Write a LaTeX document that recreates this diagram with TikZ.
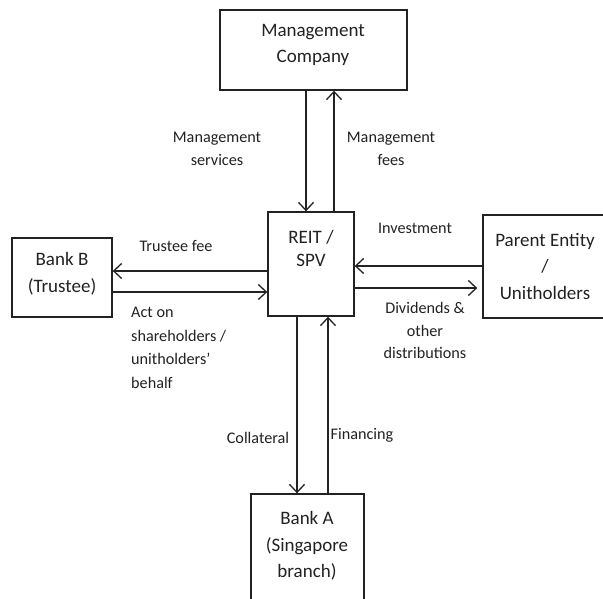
\documentclass[tikz,border=0pt]{standalone}
\usepackage{fontspec}
\setmainfont{Carlito}
\usetikzlibrary{arrows.meta}
\definecolor{ink}{HTML}{222222}
\tikzset{
  box/.style={draw=ink, line width=1.4pt, rectangle, inner sep=0pt},
  boxtext/.style={text=ink, align=center, inner sep=0pt, font=\fontsize{19}{26}\selectfont},
  lbl/.style={text=ink, align=center, inner sep=0pt, font=\fontsize{16.2}{22.5}\selectfont},
  arr/.style={draw=ink, line width=1.3pt, -{Straight Barb[length=8pt,width=15pt,line width=1.3pt]}}
}
\begin{document}
\begin{tikzpicture}[x=1pt,y=-1pt]
\useasboundingbox[fill=white] (0,0) rectangle (603,598);
% boxes
\node[box, minimum width=187pt, minimum height=80pt] (mc) at (313.5,50) {};
\node[box, minimum width=86pt, minimum height=104pt] (reit) at (311,264) {};
\node[box, minimum width=100pt, minimum height=79pt] (bankb) at (62,277.5) {};
\node[box, minimum width=137pt, minimum height=103pt] (parent) at (551.5,266.5) {};
\node[box, minimum width=113pt, minimum height=126pt] (banka) at (307.5,557) {};
% box texts
\node[boxtext] (mct) at (313,45) {Management\\Company};
\node[boxtext, font=\fontsize{19}{23}\selectfont] (reitt) at (311,248) {REIT /\\SPV};
\node[boxtext, font=\fontsize{19}{27}\selectfont] (bankbt) at (62,273.5) {Bank B\\(Trustee)};
\node[boxtext, font=\fontsize{19}{26.5}\selectfont] (parentt) at (545,266) {Parent Entity\\/\\Unitholders};
\node[boxtext, font=\fontsize{19}{26.5}\selectfont] (bankat) at (307,546) {Bank A\\(Singapore\\branch)};
% connectors
\draw[arr] (306,0 |- mc.south) -- (306,0 |- reit.north);
\draw[arr] (334,0 |- reit.north) -- (334,0 |- mc.south);
\draw[arr] (reit.west |- 0,271) -- (bankb.east |- 0,271);
\draw[arr] (bankb.east |- 0,292) -- (reit.west |- 0,292);
\draw[arr] (parent.west |- 0,266) -- (reit.east |- 0,266);
\draw[arr, shorten >=5pt] (reit.east |- 0,288) -- (parent.west |- 0,288);
\draw[arr] (297,0 |- reit.south) -- (297,0 |- banka.north);
\draw[arr] (328,0 |- banka.north) -- (328,0 |- reit.south);
% labels
\node[lbl] (lms) at (217,149) {Management\\services};
\node[lbl] (lmf) at (391,149) {Management\\fees};
\node[lbl] (ltf) at (176,246) {Trustee fee};
\node[lbl, align=left, anchor=west, font=\fontsize{16.2}{23.5}\selectfont] (lact) at (131,348) {Act on\\shareholders /\\unitholders'\\behalf};
\node[lbl] (linv) at (415,228) {Investment};
\node[lbl] (ldiv) at (425,330.5) {Dividends \&\\other\\distributions};
\node[lbl] (lcol) at (258,438) {Collateral};
\node[lbl] (lfin) at (362,435) {Financing};
\end{tikzpicture}
\end{document}
